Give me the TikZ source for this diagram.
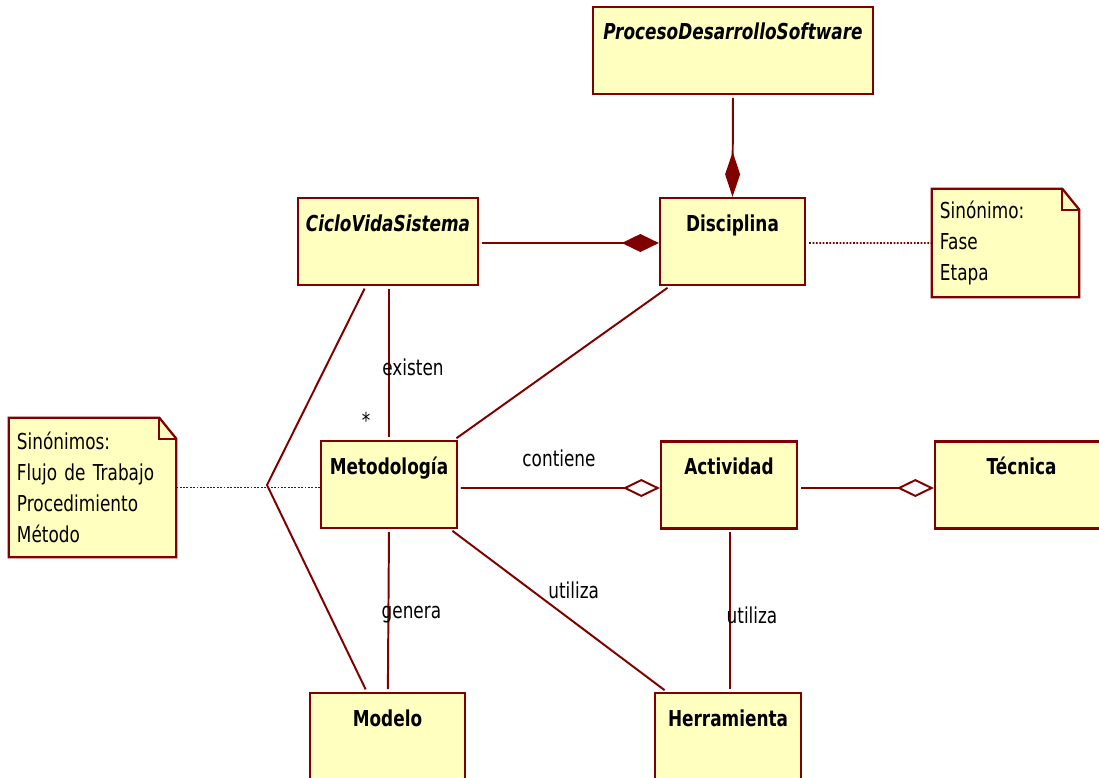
\documentclass[tikz,border=0pt]{standalone}
\usepackage{fontspec}
\setmainfont{DejaVu Sans}[FakeStretch=0.77]
\usetikzlibrary{arrows.meta, calc, backgrounds}
\definecolor{umlline}{RGB}{128, 0, 0}
\definecolor{umlfill}{RGB}{255, 255, 192}

\begin{document}
\begin{tikzpicture}[
    x=0.025cm, y=-0.025cm,
    font=\fontsize{15.6pt}{22pt}\selectfont,
    umlclass/.style={
        draw=umlline,
        fill=umlfill,
        line width=1.6pt,
        rectangle,
        inner xsep=0pt,
        inner ysep=0pt,
        text height=0.825cm,
        text depth=1.35cm,
        font=\fontsize{15.6pt}{22pt}\selectfont\bfseries
    },
    abstractclass/.style={
        umlclass,
        font=\fontsize{15.6pt}{22pt}\selectfont\bfseries\itshape
    },
    notebox/.style={
        rectangle,
        inner xsep=0.2cm,
        inner ysep=0pt,
        align=left
    },
    noteline/.style={
        draw=umlline,
        fill=umlfill,
        line width=1.6pt,
        line join=miter
    },
    association/.style={
        -,
        line width=1.4pt,
        color=umlline,
        shorten <=2pt,
        shorten >=2pt
    },
    compose/.style={
        line width=1.4pt,
        color=umlline,
        shorten <=2pt
    },
    aggregate/.style={
        line width=1.4pt,
        color=umlline,
        shorten <=2pt,
        -{Diamond[open, length=0.925cm, width=0.45cm]}
    },
    anchorline/.style={
        line width=1.4pt,
        color=umlline,
        dash pattern=on 1.3pt off 1.1pt
    },
    rolename/.style={
        font=\fontsize{15.6pt}{22pt}\selectfont,
        text=black,
        inner sep=0pt
    }
]

% Frame
\useasboundingbox (0, 0) rectangle (1099, 777);
\clip (0, 0) rectangle (1099, 777);

% ==================== CLASSES ====================
\node[abstractclass, minimum width=7cm] (proc) at (733, 50.5) {ProcesoDesarrolloSoftware};
\node[umlclass, minimum width=3.625cm] (disc) at (732.5, 241.5) {Disciplina};
\node[abstractclass, minimum width=4.5cm] (ciclo) at (388, 241.5) {CicloVidaSistema};
\node[umlclass, minimum width=3.4cm] (meto) at (389, 484.5) {Metodología};
\node[umlclass, minimum width=3.4cm] (act) at (729, 485) {Actividad};
\node[umlclass, minimum width=4.325cm] (tec) at (1021.5, 485) {Técnica};
\node[umlclass, minimum width=3.875cm] (modelo) at (387.5, 736.5) {Modelo};
\node[umlclass, minimum width=3.65cm] (herr) at (728, 736.5) {Herramienta};

% ==================== NOTES ====================
\node[notebox, text width=3.275cm, minimum height=2.7cm] (nota1) at (1005.5, 243) {Sinónimo:\\Fase\\Etapa};
\node[notebox, text width=3.775cm, minimum height=3.475cm] (nota2) at (92.5, 487.5) {Sinónimos:\\Flujo de Trabajo\\Procedimiento\\Método};

\begin{scope}[on background layer]
    \foreach \n in {nota1, nota2} {
        \draw[noteline] (\n.north west) -- ($(\n.north east)+(-17,0)$) -- ($(\n.north east)+(0,21)$)
            -- (\n.south east) -- (\n.south west) -- cycle;
        \draw[noteline, fill=none] ($(\n.north east)+(-17,0)$) |- ($(\n.north east)+(0,21)$);
    }
\end{scope}

% ==================== COMPOSITIONS ====================
\draw[compose, -{Diamond[length=1.125cm, width=0.375cm]}] (proc.south) -- (disc.north);
\draw[compose, -{Diamond[length=0.925cm, width=0.45cm]}] ($(ciclo.east)+(0,1.5)$) -- ($(disc.west)+(0,1.5)$);

% ==================== AGGREGATIONS ====================
\draw[aggregate] ($(meto.east)+(0,3.5)$) -- ($(act.west)+(0,3)$)
    node[rolename, midway, yshift=0.75cm] (lblcontiene) {contiene};
\draw[aggregate] ($(act.east)+(0,3)$) -- ($(tec.west)+(0,3)$);

% ==================== ASSOCIATIONS ====================
\draw[association] ($(ciclo.south)+(1,0)$) -- (meto.north)
    node[rolename, pos=0.53, xshift=0.6cm] (lblexisten) {existen}
    node[rolename, pos=0.87, xshift=-0.575cm] (lblmult) {*};
\draw[association] ($(disc.south west)+(11,0)$) -- ($(meto.north east)+(-4,0)$);
\coordinate (junc) at (267, 485);
\draw[association] ($(ciclo.south west)+(69,0)$) -- (junc) -- ($(modelo.north west)+(58,0)$);
\draw[association] (meto.south) -- ($(modelo.north west)+(79,0)$)
    node[rolename, pos=0.527, xshift=0.575cm] (lblgenera) {genera};
\draw[association] ($(meto.south east)+(-8,0)$) -- ($(herr.north west)+(13,0)$)
    node[rolename, pos=0.376, xshift=1.05cm] (lblutiliza) {utiliza};
\draw[association] ($(act.south)+(1,0)$) -- ($(herr.north)+(2,0)$)
    node[rolename, pos=0.527, xshift=0.55cm] (lblutiliza2) {utiliza};

% ==================== NOTE ANCHORS ====================
\draw[anchorline] ($(disc.east)+(3,1.5)$) -- (nota1.west);
\draw[anchorline] (nota2.east) -- (nota2.east -| meto.west);

\end{tikzpicture}
\end{document}
